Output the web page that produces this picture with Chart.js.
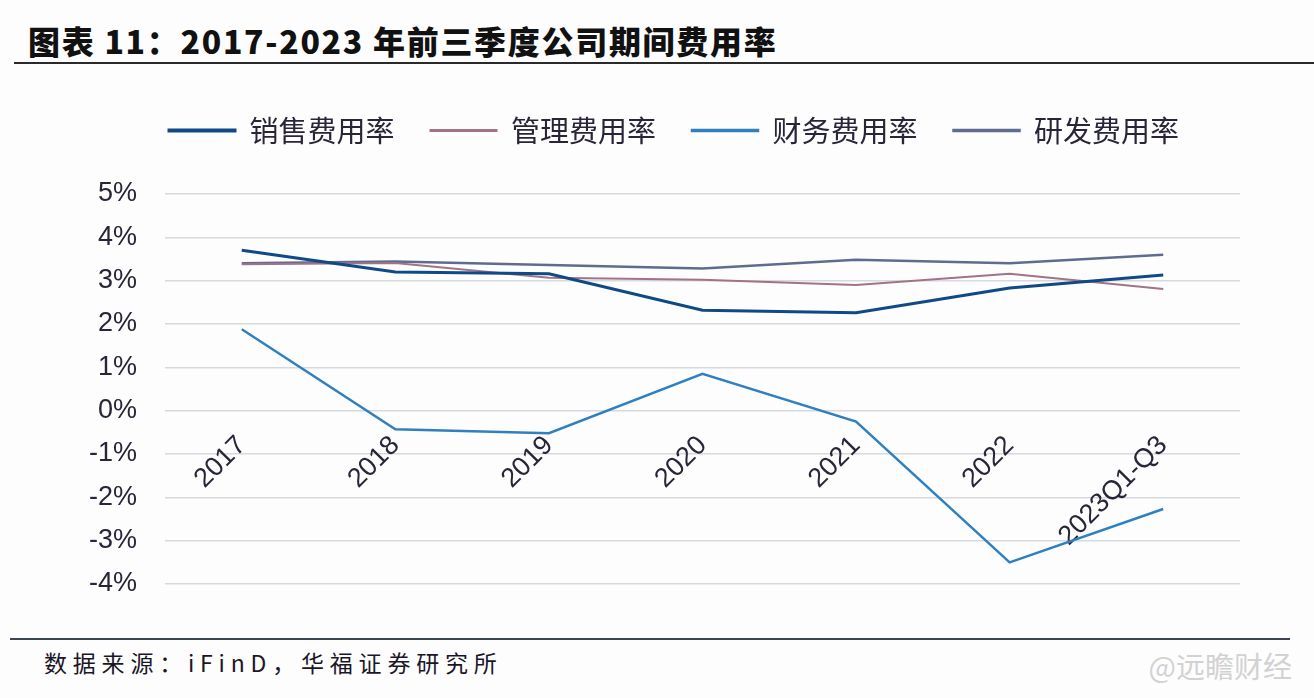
<!DOCTYPE html>
<html>
<head>
<meta charset="utf-8">
<script src="https://cdn.jsdelivr.net/npm/chart.js@4"></script>
<style>
  html, body { margin: 0; padding: 0; background: #fdfdfe; }
  body { width: 1314px; height: 698px; position: relative; overflow: hidden; }
  #title {
    position: absolute; left: 28px; top: 17px;
    font-family: "Noto Sans CJK SC", sans-serif; font-weight: 900;
    font-size: 32px; color: #111; letter-spacing: 1.7px; white-space: nowrap;
  }
  #topRule { position: absolute; left: 14px; right: 0; top: 62px; height: 2px; background: #2a2a2a; }
  #bottomRule { position: absolute; left: 10px; width: 1280px; top: 638px; height: 2px; background: #3e4552; }
  #source {
    position: absolute; left: 44px; top: 645px;
    font-family: "Noto Sans CJK SC", serif; font-size: 23px; color: #1a1626;
    letter-spacing: 5.8px; white-space: nowrap;
  }
  #mark {
    position: absolute; right: 22px; top: 644px;
    font-family: "Noto Sans CJK SC", sans-serif; font-size: 29px; color: #d2d2d2; white-space: nowrap;
  }
  #wrap { position: absolute; left: 0; top: 70px; width: 1314px; height: 570px; }
</style>
</head>
<body>
<div id="title">图表 11：2017-2023 年前三季度公司期间费用率</div>
<div id="topRule"></div>
<div id="wrap"><canvas id="myChart"></canvas></div>
<div id="bottomRule"></div>
<div id="source">数据来源：iFinD，华福证券研究所</div>
<div id="mark">@远瞻财经</div>
<script>
const categories = ["2017", "2018", "2019", "2020", "2021", "2022", "2023Q1-Q3"];
const sales = [3.70, 3.20, 3.16, 2.32, 2.26, 2.83, 3.13];
const admin = [3.38, 3.41, 3.07, 3.02, 2.90, 3.16, 2.81];
const finance = [1.88, -0.43, -0.52, 0.85, -0.25, -3.50, -2.27];
const rnd = [3.40, 3.44, 3.36, 3.28, 3.48, 3.40, 3.60];

const seriesNames = ["销售费用率", "管理费用率", "财务费用率", "研发费用率"];
const seriesColors = ["#0f4a86", "#a07486", "#3080c0", "#5e6d8e"];
const seriesWidths = [3, 2, 2.5, 2.5];

const labelFont = { family: "'Liberation Sans', Arial, sans-serif", size: 27 };

function makeSet(i, values) {
  return {
    label: seriesNames[i],
    data: values,
    borderColor: seriesColors[i],
    backgroundColor: seriesColors[i],
    borderWidth: seriesWidths[i],
    pointRadius: 0,
    tension: 0,
  };
}

// legend: extra room below it and a small sideways nudge
const legendTweak = {
  id: "legendTweak",
  beforeInit(chart) {
    const legend = chart.legend;
    const origFit = legend.fit;
    legend.fit = function () {
      origFit.call(this);
      this.height += 39;
    };
  },
  afterLayout(chart) {
    chart.legend.left += 44;
    chart.legend.right += 44;
  },
};

const ctx = document.getElementById("myChart");
new Chart(ctx, {
  type: "line",
  data: {
    labels: categories,
    datasets: [
      makeSet(0, sales),
      makeSet(1, admin),
      makeSet(2, finance),
      makeSet(3, rnd),
    ],
  },
  options: {
    responsive: true,
    maintainAspectRatio: false,
    animation: false,
    layout: {
      padding: { left: 20, right: 74, top: 10, bottom: 56 },
    },
    plugins: {
      legend: {
        position: "top",
        labels: {
          boxWidth: 66,
          boxHeight: 1,
          padding: 36,
          color: "#2a2438",
          font: { family: "'Noto Sans CJK SC', sans-serif", size: 29 },
        },
      },
      tooltip: { enabled: false },
    },
    scales: {
      x: {
        position: { y: 0 },
        offset: true,
        grid: { display: false, drawTicks: false },
        border: { display: false },
        ticks: {
          color: "#2a2438",
          font: labelFont,
          minRotation: 45,
          maxRotation: 45,
          padding: 19,
          autoSkip: false,
        },
      },
      y: {
        min: -4,
        max: 5,
        afterFit: (scale) => { scale.width = 145; },
        grid: { color: "#d6d9de", lineWidth: 1.5, drawTicks: false },
        border: { display: false },
        ticks: {
          stepSize: 1,
          color: "#2a2438",
          font: labelFont,
          padding: 28,
          callback: (v) => v + "%",
        },
      },
    },
  },
  plugins: [legendTweak],
});
</script>
</body>
</html>
